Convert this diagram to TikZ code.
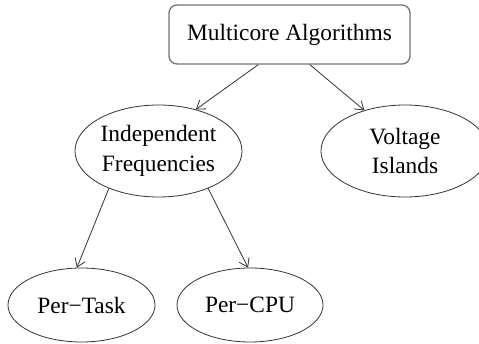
\documentclass[tikz,border=0pt]{standalone}
\usepackage{fontspec}
\setmainfont{Liberation Serif}
\usetikzlibrary{shapes.geometric,arrows.meta}

\tikzset{
  topbox/.style={draw=black!55, line width=1.3pt, rounded corners=8pt,
    minimum width=241pt, minimum height=59pt, inner sep=0pt},
  oval/.style={ellipse, draw=black!80, line width=0.8pt, inner sep=0pt, align=center},
  link/.style={draw=black!80, line width=0.8pt, -{Straight Barb[length=8pt,width=11pt]}}
}

\begin{document}
\begin{tikzpicture}[x=1pt, y=-1pt, font=\fontsize{23.4}{29.5}\selectfont]
  \useasboundingbox (0,0) rectangle (479,344);

  \node[topbox] (top) at (289.5,34.5) {Multicore Algorithms};

  \node[oval, minimum width=167pt, minimum height=92pt] (ind) at (158.5,151)
    {Independent\\Frequencies};
  \node[oval, minimum width=168pt, minimum height=92pt] (volt) at (405,151)
    {Voltage\\Islands};

  \node[oval, minimum width=147pt, minimum height=74pt] (task) at (81.5,305) {Per−Task};
  \node[oval, minimum width=146pt, minimum height=74pt] (cpu) at (250,305) {Per−CPU};

  \draw[link] (top.224.3) -- (ind.48.3);
  \draw[link] (top.-56.1) -- (volt.135);
  \draw[link] (ind.217.7) -- (task.97.3);
  \draw[link] (ind.323.6) -- (cpu.93);
\end{tikzpicture}
\end{document}
